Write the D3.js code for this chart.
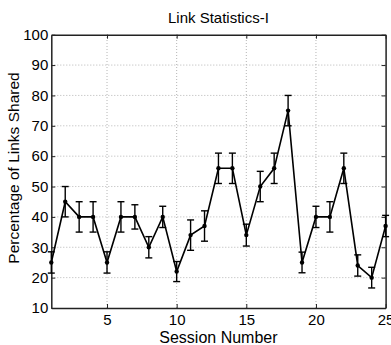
<!DOCTYPE html>
<html>
<head>
<meta charset="utf-8">
<script src="https://cdn.jsdelivr.net/npm/d3@7"></script>
<style>
  body { margin: 0; background: #fff; }
  svg { display: block; font-family: "Liberation Sans", Arial, sans-serif; }
</style>
</head>
<body>
<div id="chart"></div>
<script>
// session numbers, mean % of links shared, and error bar half-widths
const sessions = d3.range(1, 26);
const shared = [25, 45, 40, 40, 25, 40, 40, 30, 40, 22, 34, 37, 56, 56, 34, 50, 56, 75, 25, 40, 40, 56, 24, 20, 37];
const errs   = [3.5, 5, 5, 5, 3.5, 5, 4, 3.5, 3.5, 3.3, 5, 5, 5, 5, 3.6, 5, 5, 5, 3.4, 3.5, 5, 5, 3.5, 3.4, 3.5];
const xTicks = [5, 10, 15, 20, 25];
const yTicks = [10, 20, 30, 40, 50, 60, 70, 80, 90, 100];

const width = 391, height = 345;
const margin = {top: 34.7, right: 5.4, bottom: 37, left: 51.3};

const svg = d3.select("#chart").append("svg")
  .attr("width", width)
  .attr("height", height);

const x = d3.scaleLinear().domain([1, 25]).range([margin.left, width - margin.right]);
const y = d3.scaleLinear().domain([10, 100]).range([height - margin.bottom, margin.top]);

// dotted grid
svg.append("g")
  .selectAll("line.gx")
  .data(xTicks.filter(d => d < 25))
  .join("line")
  .attr("x1", d => x(d)).attr("x2", d => x(d))
  .attr("y1", y(10)).attr("y2", y(100))
  .attr("stroke", "#b5b5b5").attr("stroke-width", 1)
  .attr("stroke-dasharray", "1,2");

svg.append("g")
  .selectAll("line.gy")
  .data(yTicks.filter(d => d > 10 && d < 100))
  .join("line")
  .attr("x1", x(1)).attr("x2", x(25))
  .attr("y1", d => y(d)).attr("y2", d => y(d))
  .attr("stroke", "#b5b5b5").attr("stroke-width", 1)
  .attr("stroke-dasharray", "1,2");

// axes, ticks pointing inwards
const xAxis = d3.axisBottom(x).tickValues(xTicks).tickSize(-4).tickPadding(6).tickSizeOuter(0);
const yAxis = d3.axisLeft(y).tickValues(yTicks).tickSize(-4).tickPadding(3).tickSizeOuter(0);

const gx = svg.append("g")
  .attr("transform", `translate(0,${y(10)})`)
  .call(xAxis);
const gy = svg.append("g")
  .attr("transform", `translate(${x(1)},0)`)
  .call(yAxis);

svg.append("g")
  .attr("transform", `translate(0,${y(100)})`)
  .call(d3.axisTop(x).tickValues(xTicks).tickSize(-4).tickFormat("").tickSizeOuter(0));
svg.append("g")
  .attr("transform", `translate(${x(25)},0)`)
  .call(d3.axisRight(y).tickValues(yTicks).tickSize(-4).tickFormat("").tickSizeOuter(0));

svg.selectAll(".domain").attr("stroke", "#222").attr("stroke-width", 1.5);
svg.selectAll(".tick line").attr("stroke", "#222");
[gx, gy].forEach(g => g.selectAll("text")
  .attr("font-size", 15)
  .attr("fill", "#000")
  .attr("font-family", "Liberation Sans, Arial, sans-serif"));

// series
const pts = sessions.map((s, i) => ({s: s, v: shared[i], e: errs[i]}));

const line = d3.line().x(d => x(d.s)).y(d => y(d.v));

svg.append("path")
  .datum(pts)
  .attr("d", line)
  .attr("fill", "none")
  .attr("stroke", "#000")
  .attr("stroke-width", 1.6);

const eb = svg.append("g").attr("stroke", "#000").attr("stroke-width", 1.4);
eb.selectAll("line.v").data(pts).join("line")
  .attr("x1", d => x(d.s)).attr("x2", d => x(d.s))
  .attr("y1", d => y(d.v - d.e)).attr("y2", d => y(d.v + d.e));
eb.selectAll("line.t").data(pts).join("line")
  .attr("x1", d => x(d.s) - 3.5).attr("x2", d => x(d.s) + 3.5)
  .attr("y1", d => y(d.v + d.e)).attr("y2", d => y(d.v + d.e));
eb.selectAll("line.b").data(pts).join("line")
  .attr("x1", d => x(d.s) - 3.5).attr("x2", d => x(d.s) + 3.5)
  .attr("y1", d => y(d.v - d.e)).attr("y2", d => y(d.v - d.e));

svg.append("g").selectAll("circle").data(pts).join("circle")
  .attr("cx", d => x(d.s)).attr("cy", d => y(d.v))
  .attr("r", 2.2).attr("fill", "#000");

// titles
svg.append("text")
  .attr("x", (x(1) + x(25)) / 2)
  .attr("y", 23)
  .attr("text-anchor", "middle")
  .attr("font-size", 15)
  .text("Link Statistics-I");

svg.append("text")
  .attr("x", (x(1) + x(25)) / 2)
  .attr("y", 343)
  .attr("text-anchor", "middle")
  .attr("font-size", 16)
  .text("Session Number");

svg.append("text")
  .attr("transform", `translate(19,168) rotate(-90)`)
  .attr("text-anchor", "middle")
  .attr("font-size", 15.5)
  .text("Percentage of Links Shared");
</script>
</body>
</html>
